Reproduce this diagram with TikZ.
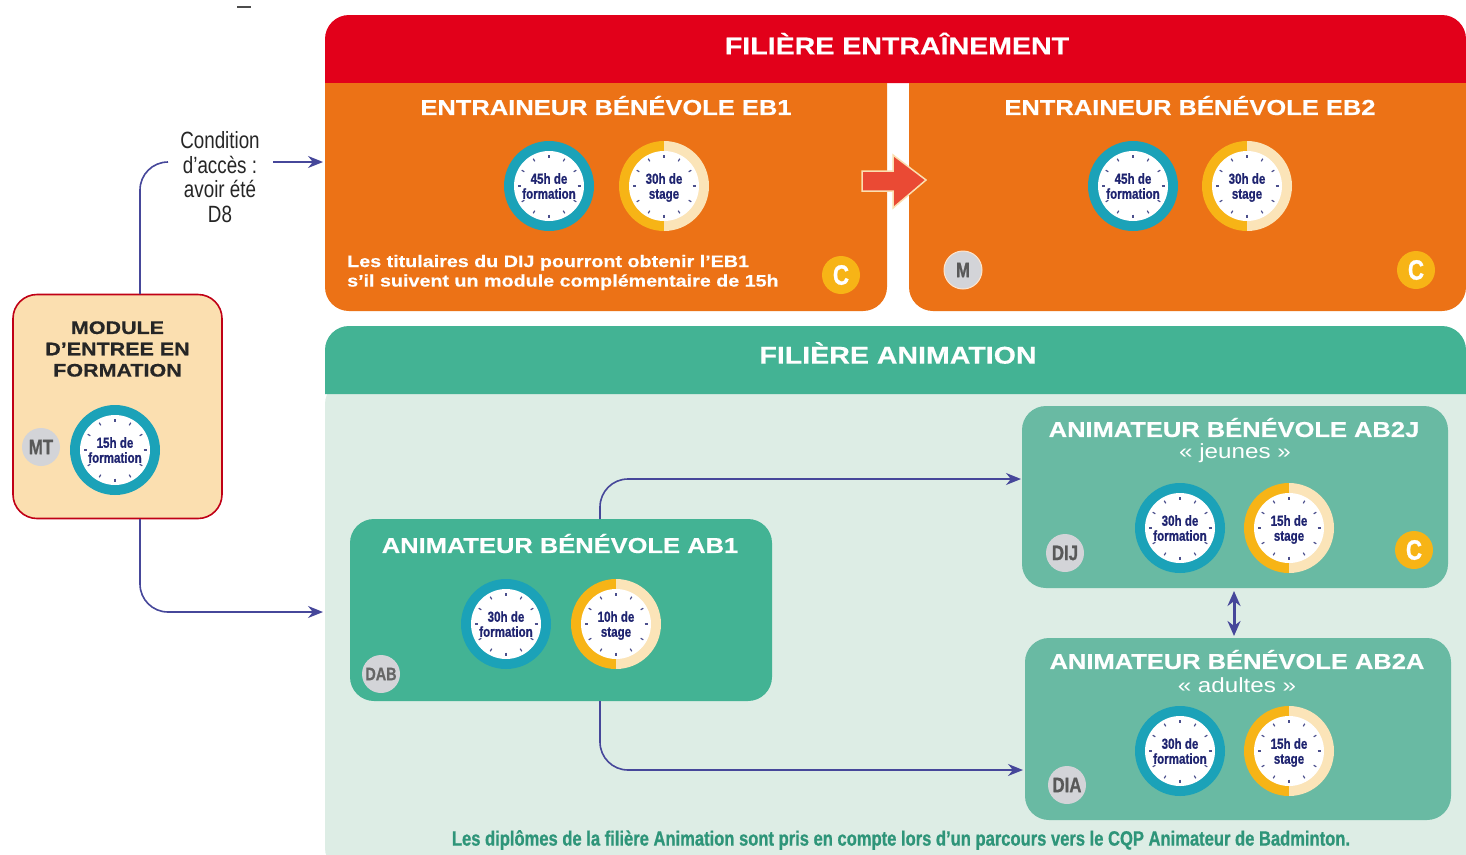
\documentclass[tikz,border=0pt]{standalone}
\usepackage{fontspec}
\setmainfont{Liberation Sans}
\newfontfamily\widef[FakeStretch=1.18,BoldFeatures={FakeBold=0.5}]{Liberation Sans}
\newfontfamily\narrowf[FakeStretch=0.8,BoldFeatures={FakeBold=0.8}]{Liberation Sans}
\usetikzlibrary{arrows.meta,calc}
\definecolor{cred}{HTML}{E2001A}
\definecolor{corange}{HTML}{EC7216}
\definecolor{cgreen}{HTML}{43B394}
\definecolor{cgreenb}{HTML}{69BAA3}
\definecolor{cpale}{HTML}{DDEDE5}
\definecolor{cmod}{HTML}{FBDFB0}
\definecolor{cnavy}{HTML}{46479A}
\definecolor{ctext}{HTML}{1F2470}
\definecolor{cteal}{HTML}{1BA2B8}
\definecolor{cyel}{HTML}{F7B416}
\definecolor{ccream}{HTML}{FBE4B8}
\definecolor{cgrey}{HTML}{D3D4D8}
\definecolor{cnote}{HTML}{2E9579}
\definecolor{carrow}{HTML}{EA4A34}
\tikzset{
 x=1pt,y=-1pt,
 head/.style={font=\widef\bfseries\fontsize{24.2}{28}\selectfont,text=white,inner sep=0pt},
 sub/.style={font=\widef\bfseries\fontsize{21.6}{25}\selectfont,text=white,inner sep=0pt},
 subb/.style={font=\widef\fontsize{20.5}{24}\selectfont,text=white,inner sep=0pt},
 badge/.style={circle,minimum size=38pt,inner sep=0pt,font=\narrowf\bfseries\fontsize{21}{21}\selectfont},
 greyb/.style={badge,fill=cgrey,text=black!65},
 yelb/.style={badge,fill=cyel,text=white,font=\narrowf\bfseries\fontsize{28}{28}\selectfont},
 clockface/.style={circle,fill=white,minimum size=70pt,inner sep=0pt,align=center,text=ctext,font=\narrowf\bfseries\fontsize{14.5}{15}\selectfont},
 flow/.style={draw=cnavy,line width=1.6pt,rounded corners=28pt,-{Stealth[length=15pt,width=12pt]}},
 line/.style={draw=cnavy,line width=1.6pt,rounded corners=28pt},
 box/.style={rounded corners=24pt},
}
\newcommand\ticksat[1]{\foreach \a in {0,30,...,330}{\draw[ctext!80,line width=1.2pt] ($(#1)+(\a:28.5pt)$)--($(#1)+(\a:31.5pt)$);}}
\newcommand\clockF[5]{%
 \fill[cteal] (#2,#3) circle[radius=45pt];
 \node[clockface] (#1) at (#2,#3) {#4\\\smash{#5}};
 \ticksat{#1}}
\newcommand\clockS[5]{%
 \fill[cyel] (#2,#3+45) arc[start angle=-90,end angle=-270,radius=45pt]--cycle;
 \fill[ccream] (#2,#3+45) arc[start angle=-90,end angle=90,radius=45pt]--cycle;
 \node[clockface] (#1) at (#2,#3) {#4\\\smash{#5}};
 \ticksat{#1}}
\begin{document}
\begin{tikzpicture}
\useasboundingbox (0,0) rectangle (1466,854);
\clip (0,0) rectangle (1466,854);
\fill[white] (0,0) rectangle (1466,854);
\draw[black!70,line width=1.2pt] (237,7)--(251,7);
% panels
\fill[cpale,rounded corners=24pt] (325,380) rectangle (1500,872);
\fill[cred] (325,83) [rounded corners=24pt] -- (325,15) -- (1466,15) [sharp corners] -- (1466,83) -- cycle;
\fill[corange] (325,83) [rounded corners=24pt] -- (325,311) -- (887,311) [sharp corners] -- (887,83) -- cycle;
\fill[corange] (909,83) [rounded corners=24pt] -- (909,311) -- (1466,311) [sharp corners] -- (1466,83) -- cycle;
\fill[cgreen] (325,394) [rounded corners=24pt] -- (325,326) -- (1466,326) [sharp corners] -- (1466,394) -- cycle;
\node[head] (t1) at (897,43.5) {FILIÈRE ENTRAÎNEMENT};
\node[head] (t2) at (898,353) {FILIÈRE ANIMATION};
% module
\node[draw=cred!85!black,line width=1.6pt,fill=cmod,box,minimum width=209pt,minimum height=224pt,inner sep=0pt] (mod) at (117.5,406.5) {};
\node[font=\widef\bfseries\fontsize{18.2}{21.3}\selectfont,text=black!85,align=center,inner sep=0pt] (modt) at (117.5,349) {MODULE\\D’ENTREE EN\\FORMATION};
\clockF{cm}{115}{450}{15h de}{formation}
\node[greyb] (mt) at (41,447) {MT};
% EB1
\node[sub] (e1) at (606,105.5) {ENTRAINEUR BÉNÉVOLE EB1};
\clockF{c1}{549}{186}{45h de}{formation}
\clockS{s1}{664}{186}{30h de}{stage}
\node[anchor=west,align=left,text=white,inner sep=0pt,font=\widef\bfseries\fontsize{16.7}{19.5}\selectfont] (e1n) at (347,272.5) {Les titulaires du DIJ pourront obtenir l’EB1\\s’il suivent un module complémentaire de 15h};
\node[yelb] (cc1) at (841,275) {C};
% EB2
\node[sub] (e2) at (1190,105.5) {ENTRAINEUR BÉNÉVOLE EB2};
\clockF{c2}{1133}{186}{45h de}{formation}
\clockS{s2}{1247}{186}{30h de}{stage}
\node[greyb,draw=white!80!orange,line width=1pt] (mm) at (963,270) {M};
\node[yelb] (cc2) at (1416,270) {C};
% big arrow
\draw[draw=cmod,line width=1.5pt,fill=carrow] (862,171)--(893,171)--(893,155)--(926,180)--(893,208)--(893,191)--(862,191)--cycle;
% AB1
\node[fill=cgreen,box,minimum width=422pt,minimum height=182pt,inner sep=0pt] (ab1) at (561,610) {};
\node[sub] (a1) at (560,543.5) {ANIMATEUR BÉNÉVOLE AB1};
\clockF{c3}{506}{624}{30h de}{formation}
\clockS{s3}{616}{624}{10h de}{stage}
\node[greyb,text=black!60,font=\narrowf\bfseries\fontsize{18}{18}\selectfont] (dab) at (381,674) {DAB};
% AB2J
\node[fill=cgreenb,box,minimum width=426pt,minimum height=182pt,inner sep=0pt] (ab2j) at (1235,497) {};
\node[sub] (a2) at (1234,427.5) {ANIMATEUR BÉNÉVOLE AB2J};
\node[subb] (a2b) at (1235,453) {« jeunes »};
\clockF{c4}{1180}{528}{30h de}{formation}
\clockS{s4}{1289}{528}{15h de}{stage}
\node[greyb] (dij) at (1065,553) {DIJ};
\node[yelb] (cc3) at (1414,550) {C};
% AB2A
\node[fill=cgreenb,box,minimum width=426pt,minimum height=182pt,inner sep=0pt] (ab2a) at (1238,729) {};
\node[sub] (a3) at (1237,659.5) {ANIMATEUR BÉNÉVOLE AB2A};
\node[subb] (a3b) at (1237,685) {« adultes »};
\clockF{c5}{1180}{751}{30h de}{formation}
\clockS{s5}{1289}{751}{15h de}{stage}
\node[greyb] (dia) at (1067,785) {DIA};
% note
\node[text=cnote,inner sep=0pt,font=\narrowf\bfseries\fontsize{20.7}{22}\selectfont] (note) at (901,840) {Les diplômes de la filière Animation sont pris en compte lors d’un parcours vers le CQP Animateur de Badminton.};
% condition
\node[align=center,inner sep=0pt,text=black!85,font=\narrowf\fontsize{23.5}{24.5}\selectfont] (cond) at (220,177) {Condition\\d’accès :\\avoir été\\D8};
% connectors
\coordinate (mtop) at (140,294);
\coordinate (mbot) at (140,519);
\coordinate (abtop) at (600,519);
\coordinate (abbot) at (600,701);
\coordinate (condw) at (168,162);
\coordinate (conde) at (273,162);
\coordinate (e1w) at (323,162);
\coordinate (a1w) at (323,612);
\coordinate (jw) at (1021,479);
\coordinate (aw) at (1023,770);
\coordinate (du) at (1234,591);
\coordinate (dd) at (1234,636);
\draw[line] (mtop) -- (140,162) -- (condw);
\draw[flow] (conde) -- (e1w);
\draw[flow] (mbot) -- (140,612) -- (a1w);
\draw[flow] (abtop) -- (600,479) -- (jw);
\draw[flow] (abbot) -- (600,770) -- (aw);
\draw[draw=cnavy,line width=3pt,{Stealth[length=15pt,width=13pt]}-{Stealth[length=15pt,width=13pt]}] (du) -- (dd);
\end{tikzpicture}
\end{document}
